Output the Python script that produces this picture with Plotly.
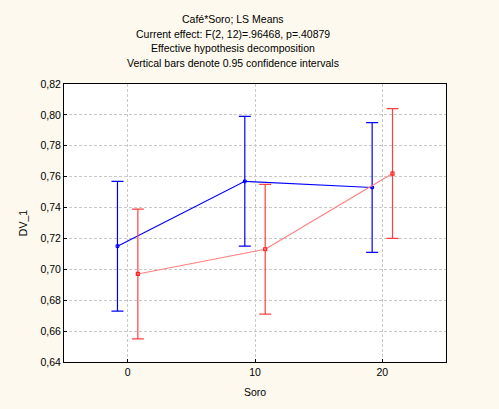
import plotly.graph_objects as go

soro = [0, 10, 20]
offset = 0.8
blue_mean = [0.715, 0.757, 0.753]
blue_err = [0.042, 0.042, 0.042]
red_mean = [0.697, 0.713, 0.762]
red_err = [0.042, 0.042, 0.042]

title_lines = [
    "Café*Soro; LS Means",
    "Current effect: F(2, 12)=.96468, p=.40879",
    "Effective hypothesis decomposition",
    "Vertical bars denote 0.95 confidence intervals",
]

fig = go.Figure()
fig.add_trace(go.Scatter(
    x=[s - offset for s in soro], y=blue_mean,
    mode="lines+markers",
    line=dict(color="#0000ff", width=1.2),
    marker=dict(symbol="circle-open", size=3, color="#0000ff", line=dict(width=1.2)),
    error_y=dict(type="data", array=blue_err, color="#0000ff", thickness=1.2, width=6),
    showlegend=False,
))
fig.add_trace(go.Scatter(
    x=[s + offset for s in soro], y=red_mean,
    mode="lines+markers",
    line=dict(color="#ff8080", width=1.2),
    marker=dict(symbol="square-open", size=3, color="#ff2020", line=dict(width=1.2)),
    error_y=dict(type="data", array=red_err, color="#ff4040", thickness=1.2, width=6),
    showlegend=False,
))

font = "Liberation Sans, Arial, sans-serif"
ys = [18, 33, 48, 63]
for t, yp in zip(title_lines, ys):
    fig.add_annotation(text=t, xref="paper", yref="paper",
                       x=(233 - 64) / 382, y=(365 - yp) / 281,
                       showarrow=False, xanchor="center", yanchor="middle",
                       font=dict(family=font, size=10.5, color="#000000"))

grid = dict(showgrid=True, gridcolor="#c8c8c8", griddash="3px,2px", gridwidth=1)
fig.update_layout(
    width=499, height=409,
    margin=dict(l=64, r=53, t=84, b=44),
    paper_bgcolor="#fdf9ee",
    plot_bgcolor="#ffffff",
    separators=",.",
    font=dict(family=font, size=10.5, color="#000000"),
    xaxis=dict(
        range=[-5, 25], tickvals=soro, ticktext=[str(s) for s in soro],
        showline=True, linecolor="#000000", linewidth=1, mirror=True,
        ticks="inside", ticklen=3, tickcolor="#000000", zeroline=False,
        title=dict(text="Soro", standoff=12, font=dict(family=font, size=10.5)),
        **grid,
    ),
    yaxis=dict(
        range=[0.64, 0.82], dtick=0.02, tickformat=".2f",
        showline=True, linecolor="#000000", linewidth=1, mirror=True,
        ticks="inside", ticklen=3, tickcolor="#000000", zeroline=False,
        title=dict(text="DV_1", standoff=10, font=dict(family=font, size=10.5)),
        **grid,
    ),
)
fig.write_html("out.html")
